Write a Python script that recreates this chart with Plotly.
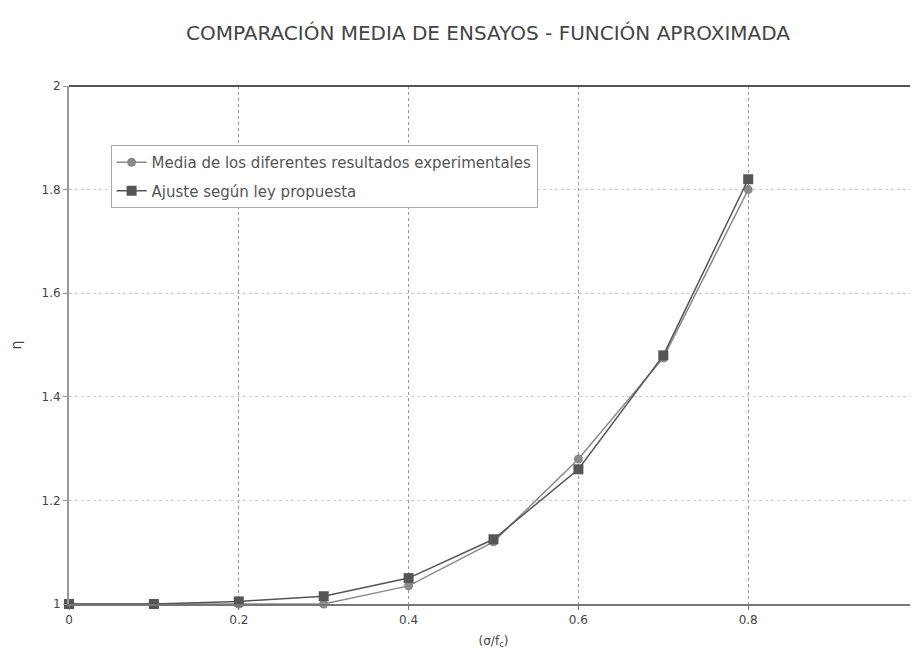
import plotly.graph_objects as go

x_vals = [0, 0.1, 0.2, 0.3, 0.4, 0.5, 0.6, 0.7, 0.8]
media_ensayos = [1.0, 1.0, 1.0, 1.0, 1.035, 1.12, 1.28, 1.475, 1.80]
ajuste_ley = [1.0, 1.0, 1.005, 1.015, 1.05, 1.125, 1.26, 1.48, 1.82]

x_ticks = [0, 0.2, 0.4, 0.6, 0.8]
y_ticks = [1, 1.2, 1.4, 1.6, 1.8, 2]

fig = go.Figure()

fig.add_trace(go.Scatter(
    x=x_vals, y=media_ensayos, mode="lines+markers",
    name="Media de los diferentes resultados experimentales",
    legendgroup="a",
    line=dict(color="#8a8a8a", width=1.5),
    marker=dict(symbol="circle", size=9, color="#8a8a8a"),
    cliponaxis=False,
))
fig.add_trace(go.Scatter(
    x=x_vals, y=ajuste_ley, mode="lines+markers",
    name="Ajuste según ley propuesta",
    legendgroup="b",
    line=dict(color="#555555", width=1.5),
    marker=dict(symbol="square", size=10, color="#555555"),
    cliponaxis=False,
))

fig.update_layout(
    width=918, height=668,
    paper_bgcolor="white", plot_bgcolor="white",
    margin=dict(l=61, r=8, t=78, b=72),
    font=dict(family="DejaVu Sans, sans-serif", color="#444444", size=12),
    title=dict(
        text="COMPARACIÓN MEDIA DE ENSAYOS - FUNCIÓN APROXIMADA",
        x=480 / 918, xref="container", xanchor="center",
        y=1 - 25 / 668, yref="container", yanchor="middle",
        font=dict(size=20, color="#444444"),
    ),
    showlegend=True,
    legend=dict(
        x=0.049, y=0.886, xanchor="left", yanchor="top",
        bgcolor="white", bordercolor="#aaaaaa", borderwidth=1,
        font=dict(size=15, color="#555555"),
        itemwidth=30, tracegroupgap=6, traceorder="grouped",
    ),
)

fig.update_xaxes(
    range=[0, 1], tickvals=x_ticks, ticktext=["0", "0.2", "0.4", "0.6", "0.8"],
    showgrid=True, gridcolor="#999999", griddash="dot", gridwidth=1,
    showline=True, linecolor="#777777", linewidth=2,
    ticks="outside", ticklen=4, tickcolor="#777777",
    zeroline=False, automargin=False,
    title=dict(text="(σ/f<sub>c</sub>)", font=dict(size=12, color="#444444"), standoff=10),
)
fig.update_yaxes(
    range=[1, 2], tickvals=y_ticks, ticktext=["1", "1.2", "1.4", "1.6", "1.8", "2"],
    showgrid=True, gridcolor="#cccccc", griddash="dot", gridwidth=1,
    showline=True, linecolor="#999999", linewidth=2, mirror=False,
    ticks="outside", ticklen=4, tickcolor="#999999",
    zeroline=False, automargin=False,
    title=dict(text="η", font=dict(size=14, color="#444444"), standoff=30),
)

# top border line
fig.add_shape(type="line", xref="paper", yref="paper", x0=0, x1=1, y0=1, y1=1,
              line=dict(color="#555555", width=2))

fig.write_html("out.html")
